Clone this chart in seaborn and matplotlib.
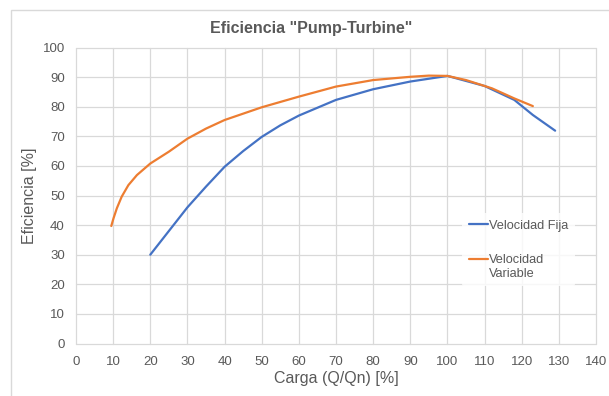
import matplotlib
matplotlib.use("Agg")
import matplotlib.pyplot as plt
import seaborn as sns
import pandas as pd
from matplotlib.patches import Rectangle

# Data
fixed_x = [20, 25, 30, 35, 40, 45, 50, 55, 60, 70, 80, 90, 100, 110, 118, 123, 129]
fixed_y = [30, 38, 46, 53, 59.7, 65, 69.8, 73.7, 77, 82.3, 85.9, 88.5, 90.4, 87, 82.3, 77.2, 71.9]

var_x = [9.5, 10.1, 11, 12.3, 14.1, 16.4, 20, 25, 30, 35, 40, 50, 60, 70, 80, 90, 95, 100, 105, 112, 118, 123]
var_y = [39.7, 42.3, 45.7, 49.6, 53.5, 56.9, 60.8, 64.8, 69.2, 72.6, 75.5, 79.8, 83.4, 86.8, 89, 90.1, 90.5, 90.4, 89, 86.2, 82.8, 80.2]

series_names = ["Velocidad Fija", "Velocidad\nVariable"]
title = 'Eficiencia "Pump-Turbine"'
xlabel = "Carga (Q/Qn) [%]"
ylabel = "Eficiencia [%]"

df = pd.concat([
    pd.DataFrame({"x": fixed_x, "y": fixed_y, "serie": series_names[0]}),
    pd.DataFrame({"x": var_x, "y": var_y, "serie": series_names[1]}),
])

sns.set_theme(style="white")
plt.rcParams["font.family"] = ["Liberation Sans", "DejaVu Sans"]

fig = plt.figure(figsize=(6.09, 3.96), dpi=100)
ax = fig.add_axes([76 / 609, 1 - 343.5 / 396, (596 - 76) / 609, (343.5 - 47.5) / 396])

palette = {series_names[0]: "#4472C4", series_names[1]: "#ED7D31"}
sns.lineplot(data=df, x="x", y="y", hue="serie", palette=palette, sort=False,
             estimator=None, linewidth=1.6, ax=ax)

ax.set_xlim(0, 140)
ax.set_ylim(0, 100)
ax.set_xticks(range(0, 141, 10))
ax.set_yticks(range(0, 101, 10))
ax.grid(True, color="#d9d9d9", linewidth=0.9)
ax.set_axisbelow(True)
for s in ax.spines.values():
    s.set_visible(False)
ax.tick_params(axis="both", length=0, labelsize=9.5, labelcolor="#595959")
ax.tick_params(axis="x", pad=9)
ax.tick_params(axis="y", pad=8)
for line in ax.get_xgridlines() + ax.get_ygridlines():
    line.set_clip_on(False)

ax.set_xlabel(xlabel, fontsize=11.5, color="#595959", labelpad=2)
ax.set_ylabel(ylabel, fontsize=11.5, color="#595959", labelpad=4)

fig.text(311 / 609, 1 - 28 / 396, title, ha="center", va="center",
         fontsize=11.5, fontweight="bold", color="#595959")

leg = ax.legend(loc="upper left", bbox_to_anchor=((456 - 76) / 520, (343.5 - 207) / 296),
                frameon=True, fontsize=9.2, handlelength=1.5, handletextpad=0.1,
                labelspacing=1.75, borderpad=0.5, title=None)
leg.get_frame().set_facecolor("white")
leg.get_frame().set_edgecolor("white")
leg.get_frame().set_linewidth(0)
for t in leg.get_texts():
    t.set_color("#595959")
# align the handle of the two-line entry with its first line of text
hl = leg.get_lines()[1]
yd = hl.get_ydata()
hl.set_ydata([v + 5.5 for v in yd])

fig.patches.append(Rectangle((10.5 / 609, -0.1), 1.2, 1 - 9.5 / 396 + 0.1,
                             transform=fig.transFigure, fill=False,
                             edgecolor="#d9d9d9", linewidth=1.0))

fig.savefig("out.png", dpi=100, facecolor="white")
